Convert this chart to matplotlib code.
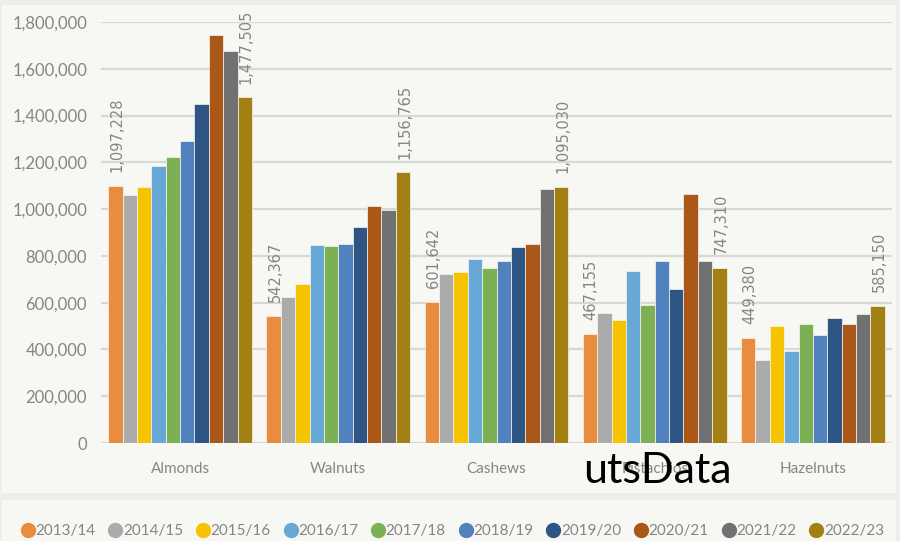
import matplotlib
matplotlib.use('Agg')
import matplotlib.pyplot as plt
import numpy as np
from matplotlib.patches import Rectangle
from matplotlib.lines import Line2D
from matplotlib.ticker import FuncFormatter

categories = ['Almonds', 'Walnuts', 'Cashews', 'Pistachios', 'Hazelnuts']
seasons = ['2013/14', '2014/15', '2015/16', '2016/17', '2017/18',
           '2018/19', '2019/20', '2020/21', '2021/22', '2022/23']
almonds = [1097228, 1060000, 1093000, 1184000, 1223000, 1290000, 1451000, 1743000, 1677000, 1477505]
walnuts = [542367, 624000, 681000, 848000, 844000, 850000, 923000, 1012000, 996000, 1156765]
cashews = [601642, 722000, 730000, 787000, 747000, 778000, 837000, 851000, 1087000, 1095030]
pistachios = [467155, 557000, 526000, 737000, 590000, 778000, 657000, 1063000, 777000, 747310]
hazelnuts = [449380, 355000, 502000, 395000, 510000, 462000, 534000, 510000, 550000, 585150]
colors = ['#E98C3F', '#ABABAB', '#F5C300', '#68A8D6', '#7DB055',
          '#5282BE', '#2F5585', '#AA5718', '#717171', '#A28013']
yticks = [0, 200000, 400000, 600000, 800000, 1000000, 1200000, 1400000, 1600000, 1800000]

data = np.array([almonds, walnuts, cashews, pistachios, hazelnuts])  # cat x season

OUTER = '#f0ede8'
PANEL = '#f7f7f3'
TXT = '#858585'

fig = plt.figure(figsize=(9, 5.41), dpi=100)
fig.patch.set_facecolor(OUTER)
W, H = 900, 541
fig.patches.append(Rectangle((2 / W, 1 - 493 / H), 894 / W, 488 / H, transform=fig.transFigure,
                             facecolor=PANEL, edgecolor='none', zorder=-10))
fig.patches.append(Rectangle((2 / W, 0), 894 / W, 41 / H, transform=fig.transFigure,
                             facecolor=PANEL, edgecolor='none', zorder=-10))

ax = fig.add_axes([101 / W, 1 - 443 / H, 791 / W, 421 / H])
ax.set_facecolor('none')

n = len(seasons)
group = 0.91
w = group / n
x = np.arange(len(categories))
for i, s in enumerate(seasons):
    pos = x + (i - (n - 1) / 2) * w
    ax.bar(pos, data[:, i], width=w, color=colors[i], edgecolor=PANEL, linewidth=0.5, zorder=3)
    if i in (0, n - 1):
        for xp, v in zip(pos, data[:, i]):
            ax.annotate(f'{v:,}', (xp, v), xytext=(1, 10), textcoords='offset points',
                        rotation=90, ha='center', va='bottom', fontsize=10.5,
                        family='DejaVu Sans', color=TXT, annotation_clip=False, zorder=4)

ax.set_xlim(-0.5, len(categories) - 0.5)
ax.set_ylim(0, 1800000)
ax.set_yticks(yticks)
ax.yaxis.set_major_formatter(FuncFormatter(lambda v, p: f'{int(v):,}'))
ax.set_xticks(x)
ax.set_xticklabels(categories)
ax.grid(axis='y', color='#d9d9d4', linewidth=1.6, zorder=0)
ax.set_axisbelow(True)
for sp in ax.spines.values():
    sp.set_visible(False)
ax.tick_params(axis='y', length=0, pad=10, labelsize=12, labelcolor=TXT)
ax.tick_params(axis='x', length=0, pad=14, labelsize=11, labelcolor=TXT)
for lab in ax.get_yticklabels() + ax.get_xticklabels():
    lab.set_family('Lato')

handles = [Line2D([], [], marker='o', linestyle='none', markersize=10,
                  markerfacecolor=c, markeredgecolor=c) for c in colors]
leg = fig.legend(handles, seasons, loc='center', bbox_to_anchor=(452 / W, 1 - 531 / H),
                 ncol=n, frameon=False, handletextpad=0.0, columnspacing=0.8,
                 handlelength=1.0, prop={'family': 'Lato', 'size': 11})
for t in leg.get_texts():
    t.set_color(TXT)

fig.text(583 / W, 1 - 483 / H, 'utsData', fontsize=31, family='Lato', color='black',
         ha='left', va='baseline')

fig.savefig('out.png', dpi=100, facecolor=fig.get_facecolor())
